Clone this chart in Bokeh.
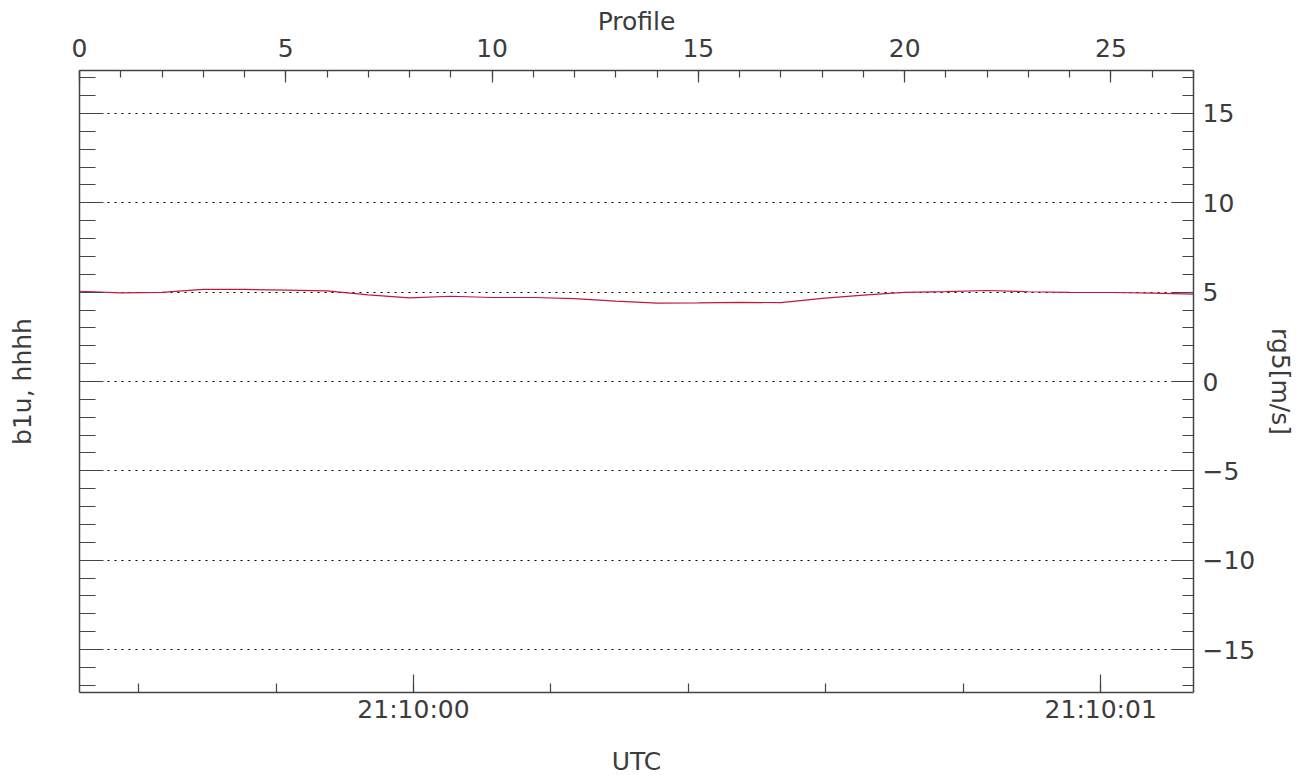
from bokeh.plotting import figure
from bokeh.models import LinearAxis, Range1d, SingleIntervalTicker
from bokeh.embed import file_html
from bokeh.resources import INLINE

# --- data -------------------------------------------------------------
profiles = list(range(28))
rg5 = [5.05, 4.96, 4.99, 5.15, 5.15, 5.11, 5.07, 4.85, 4.68, 4.77,
       4.70, 4.70, 4.64, 4.50, 4.38, 4.40, 4.43, 4.41, 4.65, 4.83,
       4.99, 5.03, 5.09, 5.02, 4.99, 4.98, 4.94, 4.89]

time_tick_values = [76200, 76201]          # seconds of day
time_tick_labels = ["21:10:00", "21:10:01"]
time_start = 76199.514
time_end = 76201.135

y_label_values = [-15, -10, -5, 0, 5, 10, 15]
y_label_texts = ["\u221215", "\u221210", "\u22125", "0", "5", "10", "15"]

FONT = "DejaVu Sans"
FS = "25px"
TXT = "#3c3c3c"
AX = "#444444"

p = figure(frame_width=1114, frame_height=622,
           x_range=Range1d(0, 27), y_range=Range1d(-17.4, 17.4),
           x_axis_location="above", output_backend="svg",
           toolbar_location=None,
           min_border_left=79, min_border_top=70,
           min_border_bottom=80, min_border_right=104)
p.outline_line_color = None
p.background_fill_color = "white"
p.border_fill_color = "white"

p.extra_x_ranges = {"time": Range1d(time_start, time_end)}

def style(ax, tin, tmin):
    ax.axis_line_color = AX
    ax.axis_line_width = 1.5
    ax.major_tick_line_color = AX
    ax.minor_tick_line_color = AX
    ax.major_tick_line_width = 1.2
    ax.minor_tick_line_width = 1.2
    ax.major_tick_in = tin
    ax.major_tick_out = 0
    ax.minor_tick_in = tmin
    ax.minor_tick_out = 0
    ax.major_label_text_font = FONT
    ax.major_label_text_font_size = FS
    ax.major_label_text_color = TXT
    ax.axis_label_text_font = FONT
    ax.axis_label_text_font_size = FS
    ax.axis_label_text_font_style = "normal"
    ax.axis_label_text_color = TXT

# top axis: Profile
top = p.xaxis[0]
top.ticker = SingleIntervalTicker(interval=5, num_minor_ticks=5)
top.axis_label = "Profile"
style(top, 12, 7)
top.major_label_standoff = 14
top.axis_label_standoff = 0

# bottom axis: UTC
bottom = LinearAxis(x_range_name="time",
                    ticker=SingleIntervalTicker(interval=1, num_minor_ticks=5),
                    axis_label="UTC")
bottom.major_label_overrides = dict(zip(time_tick_values, time_tick_labels))
style(bottom, 18, 9)
bottom.major_label_standoff = 2
bottom.axis_label_standoff = 20
p.add_layout(bottom, "below")

# left axis (ticks only, no tick labels)
left = p.yaxis[0]
left.ticker = SingleIntervalTicker(interval=5, num_minor_ticks=5)
left.axis_label = "b1u, hhhh"
style(left, 24, 16)
left.major_label_overrides = {v: "" for v in y_label_values}
left.major_label_standoff = 0
left.axis_label_standoff = 43

# right axis
right = LinearAxis(ticker=SingleIntervalTicker(interval=5, num_minor_ticks=5),
                   axis_label="rg5[m/s]")
right.major_label_overrides = dict(zip(y_label_values, y_label_texts))
style(right, 22, 11)
right.major_label_standoff = 9
right.axis_label_standoff = 8
p.add_layout(right, "right")

p.xgrid.visible = False
p.ygrid.ticker = SingleIntervalTicker(interval=5)
p.ygrid.grid_line_color = "black"
p.ygrid.grid_line_dash = "2 5"
p.ygrid.grid_line_width = 1

p.line(profiles, rg5, line_color="#c0183f", line_width=1.2)

open("out.html", "w").write(file_html(p, INLINE))
